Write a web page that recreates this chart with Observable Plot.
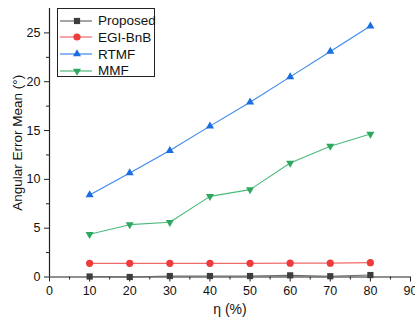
<!DOCTYPE html>
<html><head><meta charset="utf-8">
<script src="https://cdn.jsdelivr.net/npm/d3@7"></script>
<script src="https://cdn.jsdelivr.net/npm/@observablehq/plot@0.6"></script>
<style>
body{margin:0;background:#fff;}
#wrap{position:relative;width:415px;height:322px;font-family:Arial,"Liberation Sans",sans-serif;}
#legend{position:absolute;left:57px;top:8px;width:98px;height:69px;border:1px solid #222;background:#fff;box-sizing:border-box;}
.li{position:absolute;left:0;height:17px;display:flex;align-items:center;font-size:13.5px;color:#111;}
.li svg{margin-right:4px;}
</style></head>
<body><div id="wrap"><div id="legend"></div></div>
<script>
const eta = [10, 20, 30, 40, 50, 60, 70, 80];
const proposed = [0.05, 0.0, 0.1, 0.1, 0.1, 0.17, 0.08, 0.2];
const egi = [1.4, 1.4, 1.4, 1.4, 1.4, 1.42, 1.42, 1.47];
const rtmf = [8.4, 10.65, 12.95, 15.45, 17.9, 20.5, 23.1, 25.7];
const mmf = [4.37, 5.36, 5.6, 8.26, 8.95, 11.67, 13.4, 14.64];
const seriesNames = ["Proposed", "EGI-BnB", "RTMF", "MMF"];
const seriesValues = [proposed, egi, rtmf, mmf];
const lineColors = ["#6a6a6a", "#f06a6a", "#3b88ee", "#4cb97a"];
const markColors = ["#3d3d3d", "#ee3b3b", "#1a6ee0", "#2ea85f"];
const xTicks = [0, 10, 20, 30, 40, 50, 60, 70, 80, 90];
const yTicks = [0, 5, 10, 15, 20, 25];

const triangleDown = {draw(ctx, size) {
  const r = Math.sqrt(size / (3 * Math.sqrt(3) / 4));
  const h = r * Math.sqrt(3) / 2;
  ctx.moveTo(0, h * 2 / 3);
  ctx.lineTo(r / 2, -h / 3);
  ctx.lineTo(-r / 2, -h / 3);
  ctx.closePath();
}};
const triangleUp = {draw(ctx, size) {
  const r = Math.sqrt(size / (3 * Math.sqrt(3) / 4));
  const h = r * Math.sqrt(3) / 2;
  ctx.moveTo(0, -h * 2 / 3);
  ctx.lineTo(r / 2, h / 3);
  ctx.lineTo(-r / 2, h / 3);
  ctx.closePath();
}};
const symbols = ["square", "circle", triangleUp, triangleDown];
const radii = [3.5, 3.6, 5.2, 5.2];

const data = [];
seriesNames.forEach((s, i) => eta.forEach((x, j) => data.push({series: s, idx: i, x, y: seriesValues[i][j]})));

const minorX = d3.range(5, 90, 10);
const minorY = d3.range(2.5, 27.5, 5);

const marks = [
  Plot.axisX({ticks: minorX, tickSize: 3, text: null, anchor: "bottom", stroke: "#222", label: null}),
  Plot.axisX({ticks: xTicks, tickSize: 5, tickPadding: 4, anchor: "bottom", fontSize: 12.5, stroke: "#222", fill: "#111", label: null}),
  Plot.axisY({ticks: minorY, tickSize: 3, text: null, anchor: "left", stroke: "#222", label: null}),
  Plot.axisY({ticks: yTicks, tickSize: 5, tickPadding: 4, anchor: "left", fontSize: 12.5, stroke: "#222", fill: "#111", label: null}),
  Plot.ruleX([0], {stroke: "#222", strokeWidth: 1.2}),
  Plot.ruleY([0], {stroke: "#222", strokeWidth: 1.2}),
];
seriesNames.forEach((s, i) => {
  const d = data.filter(r => r.idx === i);
  marks.push(Plot.line(d, {x: "x", y: "y", stroke: lineColors[i], strokeWidth: 1.1}));
});
seriesNames.forEach((s, i) => {
  const d = data.filter(r => r.idx === i);
  marks.push(Plot.dot(d, {x: "x", y: "y", symbol: () => symbols[i], r: radii[i], fill: markColors[i], stroke: "none"}));
});

const chart = Plot.plot({
  width: 415, height: 322,
  marginLeft: 49, marginRight: 5, marginTop: 8, marginBottom: 45.5,
  style: {fontFamily: "Arial, 'Liberation Sans', sans-serif", background: "#fff", overflow: "visible"},
  x: {domain: [0, 90], axis: null},
  y: {domain: [0, 27.5], axis: null},
  symbol: {type: "identity"},
  marks: [
    ...marks,
    Plot.text(["η (%)"], {frameAnchor: "bottom", dy: 37, fontSize: 14, fill: "#111"}),
    Plot.text(["Angular Error Mean (°)"], {frameAnchor: "left", textAnchor: "middle", dx: -32, rotate: -90, fontSize: 13.5, fill: "#111"})
  ]
});
document.getElementById("wrap").prepend(chart);

// legend
const lg = document.getElementById("legend");
const legendTypes = [d3.symbolSquare, d3.symbolCircle, triangleUp, triangleDown];
seriesNames.forEach((s, i) => {
  const div = document.createElement("div");
  div.className = "li";
  div.style.top = (3 + i * 16.8) + "px";
  const svg = d3.create("svg").attr("width", 36).attr("height", 16);
  svg.append("line").attr("x1", 2).attr("x2", 34).attr("y1", 8).attr("y2", 8).attr("stroke", lineColors[i]).attr("stroke-width", 1.2);
  const sym = d3.symbol(legendTypes[i], Math.PI * radii[i] ** 2);
  svg.append("path").attr("d", sym()).attr("transform", "translate(19,8)").attr("fill", markColors[i]);
  div.appendChild(svg.node());
  div.appendChild(document.createTextNode(s));
  lg.appendChild(div);
});
</script></body></html>
